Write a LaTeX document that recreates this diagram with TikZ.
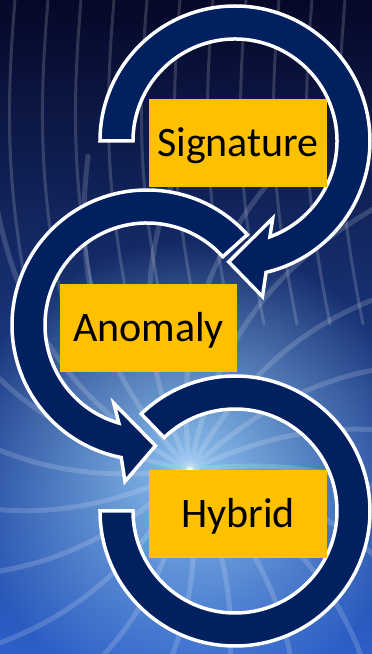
\documentclass[tikz,border=0pt]{standalone}
\usepackage{fontspec}
\setmainfont{Carlito}
\usetikzlibrary{fadings}
\definecolor{navyarrow}{RGB}{0,32,96}
\definecolor{boxorange}{RGB}{255,192,0}
\definecolor{bgdark}{RGB}{5,8,40}
\definecolor{bgblue}{RGB}{45,95,200}
\definecolor{glow}{RGB}{160,215,255}
\tikzfading[name=glowfade,inner color=transparent!15,outer color=transparent!100]
\tikzset{
	ring/.style={fill=navyarrow,draw=white,line width=3.5pt,line join=miter},
	stagebox/.style={fill=boxorange,minimum width=178,minimum height=88,inner sep=0pt,text height=27pt,text depth=0pt,font=\fontsize{42}{50}\selectfont},
	streak/.style={line width=#1,white,opacity=0.16,line cap=round},
}
\begin{document}
\begin{tikzpicture}[x=1pt,y=1pt]
	\useasboundingbox (0,0) rectangle (372,654);
	% background
	\shade[top color=bgdark,bottom color=bgblue] (0,0) rectangle (372,654);
	\begin{scope}
		\clip (0,0) rectangle (372,654);
		\fill[glow,path fading=glowfade] (190,184) circle (230);
		\foreach \a in {0,18,...,342}
			\draw[streak=5pt] (190,184) to[bend left=25] ++(\a:330);
		\foreach \x in {15,48,...,372}
			\draw[streak=3pt] (\x,654) to[bend right=8] (\x+18,330);
	\end{scope}
	% arrows
	\begin{scope}[shift={(235,143)}]
		\filldraw[ring] (180:135) arc[start angle=180,end angle=494,radius=135]
			-- (494:102) arc[start angle=494,end angle=180,radius=102] -- cycle;
	\end{scope}
	\begin{scope}[shift={(147,329)}]
		\filldraw[ring] (42:135) arc[start angle=42,end angle=259,radius=135]
			-- (262:158) -- (274:121) -- (247:85) -- (254:102)
			arc[start angle=254,end angle=42,radius=102] -- cycle;
	\end{scope}
	\begin{scope}[shift={(235,513)}]
		\filldraw[ring] (180:135) arc[start angle=180,end angle=-76.7,radius=135]
			-- (-80:158) -- (-93:121) -- (-64:86) -- (-70:102)
			arc[start angle=-70,end angle=180,radius=102] -- cycle;
	\end{scope}
	% labels
	\node[stagebox] (sig) at (238,511) {Signature};
	\node[stagebox,minimum width=177] (anom) at (148.5,326) {Anomaly};
	\node[stagebox] (hyb) at (238,140) {Hybrid};
\end{tikzpicture}
\end{document}
